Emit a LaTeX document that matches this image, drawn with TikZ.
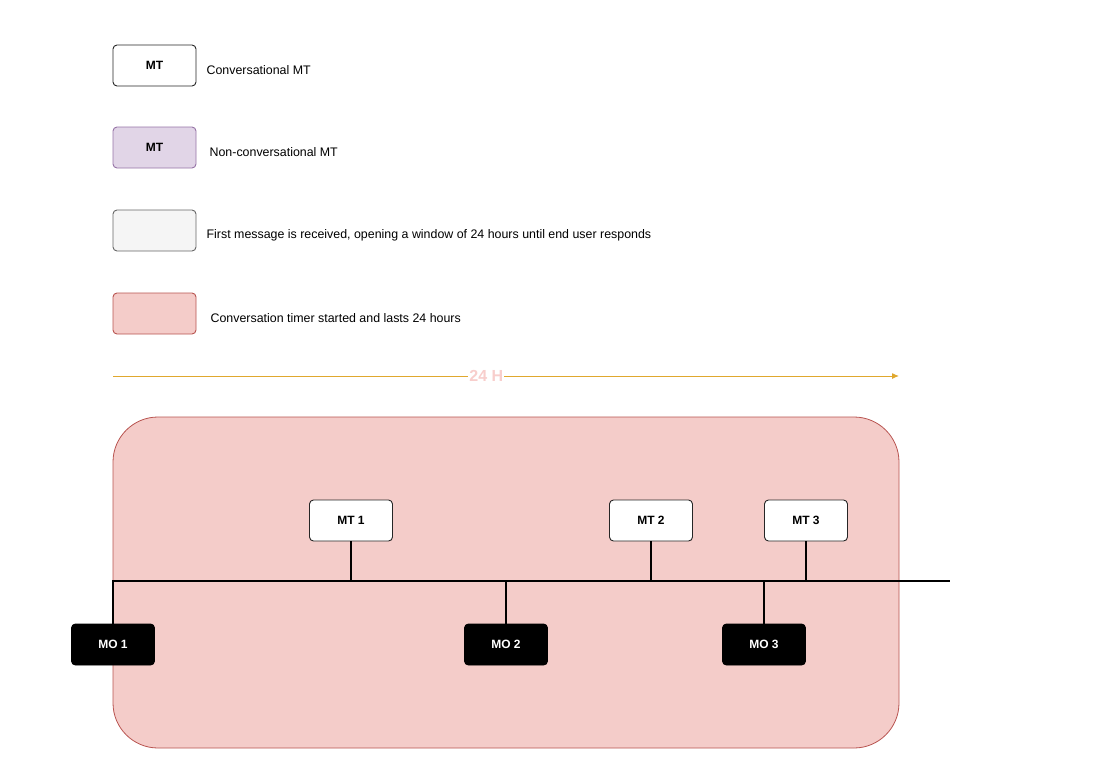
\documentclass[tikz,border=0pt]{standalone}
\usepackage{fontspec}
\setmainfont{Liberation Sans}
\usetikzlibrary{positioning,arrows.meta}
\definecolor{timerfill}{HTML}{F4CCC9}
\definecolor{timerline}{HTML}{B85450}
\definecolor{nonconvfill}{HTML}{E1D5E7}
\definecolor{nonconvline}{HTML}{9673A6}
\definecolor{firstfill}{HTML}{F5F5F5}
\definecolor{firstline}{HTML}{666666}
\definecolor{hourline}{HTML}{E0A82E}
\definecolor{hourtext}{HTML}{F8CECC}

\begin{document}
\begin{tikzpicture}[x=1pt,y=-1pt,
    box/.style={draw=black!85,fill=white,line width=0.9pt,rounded corners=4pt,minimum width=83pt,minimum height=41pt,inner sep=0pt,font=\fontsize{12}{14}\selectfont\bfseries},
    mo/.style={box,draw=black,fill=black,text=white},
    note/.style={inner sep=0pt,yshift=-4.5pt,font=\fontsize{12.4}{14}\selectfont},
    tline/.style={line width=1.8pt,black}]
  \useasboundingbox (0,0) rectangle (1112,777);

  % legend
  \node[box] (conv) at (154.5,65.5) {MT};
  \node[note,right=10pt of conv] (convtxt) {Conversational MT};
  \node[box,fill=nonconvfill,draw=nonconvline] (nonconv) at (154.5,147.5) {MT};
  \node[note,right=13pt of nonconv] (nonconvtxt) {Non-conversational MT};
  \node[box,fill=firstfill,draw=firstline] (first) at (154.5,230.5) {};
  \node[note,right=10pt of first] (firsttxt) {First message is received, opening a window of 24 hours until end user responds};
  \node[box,fill=timerfill,draw=timerline] (timer) at (154.5,313.5) {};
  \node[note,right=14pt of timer] (timertxt) {Conversation timer started and lasts 24 hours};

  % 24 hours
  \coordinate (h0) at (113,376);
  \coordinate (h1) at (899,376);
  \draw[hourline,line width=1pt,-{Latex[length=7pt,width=6pt]}] (h0) -- node[pos=0.475,fill=white,inner sep=1pt,text=hourtext,font=\fontsize{16}{18}\selectfont\bfseries] (hours) {24 H} (h1);

  % conversation window
  \node[draw=timerline,fill=timerfill,line width=0.8pt,rounded corners=45pt,minimum width=786pt,minimum height=331pt] (window) at (506,582.5) {};

  \node[box] (mt1) at (351,520.5) {MT 1};
  \node[box] (mt2) at (651,520.5) {MT 2};
  \node[box] (mt3) at (806,520.5) {MT 3};
  \node[mo] (mo1) at (113,644.5) {MO 1};
  \node[mo] (mo2) at (506,644.5) {MO 2};
  \node[mo] (mo3) at (764,644.5) {MO 3};

  \coordinate (tlend) at (950,581);
  \draw[tline] (mo1.north) |- (tlend);
  \foreach \n in {mt1,mt2,mt3}
    \draw[tline] (\n.south) -- (\n.south |- tlend);
  \foreach \n in {mo2,mo3}
    \draw[tline] (\n.north) -- (\n.north |- tlend);
\end{tikzpicture}
\end{document}
